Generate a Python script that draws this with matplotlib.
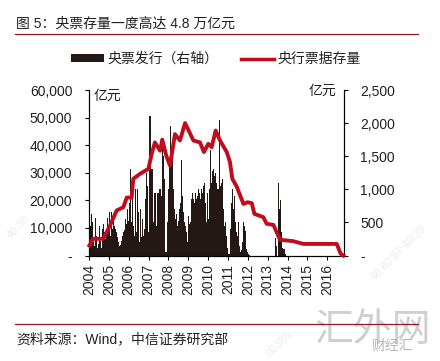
import numpy as np
import matplotlib
matplotlib.use("Agg")
import matplotlib.pyplot as plt
from matplotlib.lines import Line2D
from matplotlib.patches import Patch

plt.rcParams['font.family'] = ['Liberation Sans', 'Noto Sans CJK SC', 'DejaVu Sans']

title = "图 5：央票存量一度高达 4.8 万亿元"
source = "资料来源：Wind，中信证券研究部"
bar_name = "央票发行（右轴）"
line_name = "央行票据存量"
unit = "亿元"
years = list(range(2004, 2017))
left_ticks = [0, 10000, 20000, 30000, 40000, 50000, 60000]
left_labels = ["-", "10,000", "20,000", "30,000", "40,000", "50,000", "60,000"]
right_ticks = [0, 500, 1000, 1500, 2000, 2500]
right_labels = ["-", "500", "1,000", "1,500", "2,000", "2,500"]

# Bill issuance (right axis): 20 readings per year
issue_2004 = [250,450,620,500,200,150,560,300,120,180,450,220,120,400,480,350,250,350,560,400]
issue_2005 = [650,300,650,400,560,450,400,350,280,200,150,160,220,300,350,380,550,480,700,520]
issue_2006 = [800,1300,500,950,450,300,1000,350,1000,650,200,700,280,550,300,400,850,1240,1050,350]
issue_2007 = [1000,2100,600,1300,500,300,950,400,450,950,350,1000,900,480,1650,1500,1150,60,50,500]
issue_2008 = [1000,1480,1950,1400,1460,1000,700,550,630,450,520,700,800,1450,900,650,500,450,350,200]
issue_2009 = [600,480,500,850,950,850,800,950,850,900,1000,950,850,1000,950,1050,1100,800,500,950]
issue_2010 = [550,1000,1590,1100,1280,1300,1200,1250,1100,1000,1000,2040,1050,1100,1150,700,450,500,300,120]
issue_2011 = [30,20,400,800,1000,700,900,500,350,300,500,150,50,80,200,500,450,370,100,60]
issue_2012 = [30,10,0,0,0,0,0,0,0,0,0,0,0,0,0,0,0,0,0,0]
issue_2013 = [0,0,0,0,0,0,0,270,150,0,1100,700,840,350,120,60,100,30,0,0]
issue_by_year = [issue_2004, issue_2005, issue_2006, issue_2007, issue_2008,
                 issue_2009, issue_2010, issue_2011, issue_2012, issue_2013]

# Outstanding bills (left axis)
stock_dates = [2004.02,2004.22,2004.72,2005.06,2005.39,2005.73,2005.90,2006.15,2006.23,2006.57,
               2006.99,2007.16,2007.32,2007.58,2007.69,2007.88,2008.08,2008.33,2008.58,2008.84,
               2009.26,2009.59,2009.79,2010.01,2010.18,2010.38,2010.60,2010.94,2011.10,2011.22,
               2011.44,2011.78,2011.98,2012.20,2012.33,2012.78,2012.95,2013.29,2013.62,2014.29,
               2014.80,2016.48,2016.68,2016.81]
stock_values = [3630,6050,6050,10900,16300,17500,21000,21000,27800,29600,
                31400,36900,41000,38000,42000,36500,32600,44000,41700,48000,
                41700,41000,37500,40500,39300,45300,41700,37500,33900,27800,
                25000,18700,19300,19000,15100,13900,11500,11100,5700,5200,
                4200,4200,600,0]

DARK = "#231815"
RED = "#C00D1E"
RULE = "#8E1B25"

fig = plt.figure(figsize=(4.4, 3.61), dpi=100)
W, H = 440, 361
ax = fig.add_axes([89/W, 1-255.5/H, (343.7-89)/W, 165.5/H])
ax2 = ax.twinx()

ax.plot(stock_dates, stock_values, color=RED, lw=2.8, solid_joinstyle='round', zorder=5, clip_on=False)
for y, vals in zip(years, issue_by_year):
    xs = y + (np.arange(len(vals)) + 0.5) / len(vals)
    ax2.bar(xs, vals, width=0.055, color=DARK, linewidth=0)

ax.set_zorder(ax2.get_zorder() + 1)
ax.patch.set_visible(False)
ax.set_xlim(2004, 2016.83)
ax.set_ylim(0, 60000)
ax2.set_ylim(0, 2500)
ax.set_xticks(years)
ax.set_xticklabels([str(y) for y in years], rotation=90, fontsize=10, color="#222222")
ax.set_yticks(left_ticks)
ax.set_yticklabels(left_labels, fontsize=10, color="#222222")
ax2.set_yticks(right_ticks)
ax2.set_yticklabels(right_labels, fontsize=10, color="#222222")
for a in (ax, ax2):
    a.spines['top'].set_visible(False)
    a.tick_params(length=3, width=0.8, pad=5)
ax.tick_params(axis='x', pad=3)
ax.tick_params(axis='y', pad=9)
ax2.tick_params(axis='y', pad=9)

def T(x, y, s, **kw):
    kw.setdefault('color', '#222222')
    kw.setdefault('va', 'center')
    return fig.text(x/W, 1-y/H, s, **kw)

T(16, 24, title, fontsize=10)
T(16, 339, source, fontsize=10)
T(94, 96, unit, fontsize=10)
T(309, 91, unit, fontsize=10)
for yy in (33.5, 324):
    fig.add_artist(Line2D([15/W, 418/W], [1-yy/H, 1-yy/H], color=RULE, lw=0.9))

handles = [Patch(facecolor=DARK, edgecolor='none'), Line2D([0], [0], color=RED, lw=2.5)]
fig.legend(handles, [bar_name, line_name], ncol=2, frameon=False, fontsize=10,
           loc='center', bbox_to_anchor=(216/W, 1-59/H), handlelength=2.4, handleheight=0.5,
           handletextpad=0.25, columnspacing=1.6, labelcolor="#222222")

# Watermarks
T(314, 330, "汇外网", fontsize=28, color="#cfcfcf", ha='left', zorder=-1, family='Noto Sans CJK SC')
T(372, 346, "财经汇", fontsize=10, color="#b5b5b5", ha='left', family='Noto Sans CJK SC')
for x, y, s in [(12, 240, "40:30"), (376, 282, "48:80:87:40:39"), (272, 358, "02386")]:
    T(x, y, s, fontsize=8, color="#ececec", rotation=45, ha='left', va='bottom',
      rotation_mode='anchor', zorder=-1)

fig.savefig("out.png", dpi=100)
